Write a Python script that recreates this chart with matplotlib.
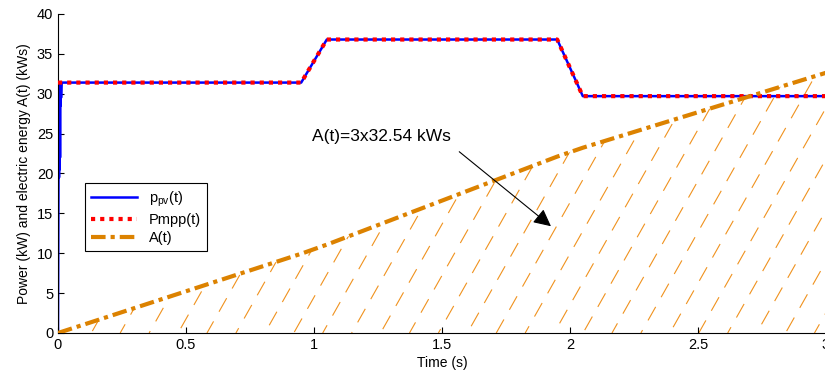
import numpy as np
import matplotlib
matplotlib.use("Agg")
import matplotlib.pyplot as plt
from matplotlib.patches import Polygon, FancyArrowPatch

plt.rcParams['font.family'] = ['Liberation Sans', 'DejaVu Sans']
plt.rcParams['mathtext.fontset'] = 'custom'
plt.rcParams['mathtext.rm'] = 'Liberation Sans'

# measured PV power (with start-up transient)
t_pv = [0, 0.002, 0.003, 0.004, 0.005, 0.006, 0.007, 0.008, 0.009, 0.010,
        0.011, 0.012, 0.014, 0.02, 0.95, 1.05, 1.95, 2.05, 3.0]
p_pv = [0, 19.0, 31.0, 19.5, 31.2, 20.5, 31.3, 22.0, 31.3, 28.5,
        31.4, 29.5, 31.4, 31.4, 31.4, 36.8, 36.8, 29.7, 29.7]
# maximum power point
t_mpp = [0, 0.95, 1.05, 1.95, 2.05, 3.0]
p_mpp = [31.4, 31.4, 36.8, 36.8, 29.7, 29.7]
# energy A(t) (scaled by 1/3)
t_A = [0, 0.95, 1.05, 1.95, 2.05, 3.0]
A = [0, 9.94, 11.08, 22.12, 23.23, 32.63]

xticks = [0, 0.5, 1, 1.5, 2, 2.5, 3]
xticklabels = ['0', '0.5', '1', '1.5', '2', '2.5', '3']
yticks = [0, 5, 10, 15, 20, 25, 30, 35, 40]

orange = '#dc8200'
hatch_col = '#f0921e'

fig = plt.figure(figsize=(8.25, 3.76), dpi=100)
ax = fig.add_axes([58/825, 43/376, 768/825, 319/376])

# hatched area under A(t)
verts = list(zip(t_A, A)) + [(t_A[-1], 0), (t_A[0], 0)]
poly = Polygon(verts, closed=True, facecolor='none', edgecolor='none')
ax.add_patch(poly)
for k, c in enumerate(np.arange(-1.0, 3.1, 0.113)):
    yy = np.array([0, 40])
    ln, = ax.plot(c + 0.0176*yy, yy, color=hatch_col, lw=0.8,
                  linestyle=((k*7) % 24, (14, 10)), zorder=1)
    ln.set_clip_path(poly)

ax.plot(t_pv, p_pv, color='#0000ff', lw=1.8, label=r'p$_{\mathregular{pv}}$(t)', zorder=2)
ax.plot(t_mpp, p_mpp, color='#ff0000', lw=3, linestyle=(0, (1, 1.2)),
        dash_capstyle='butt', label='Pmpp(t)', zorder=3)
ax.plot(t_A, A, color=orange, lw=3, linestyle=(0, (3.5, 1.2, 1, 1.2)),
        dash_capstyle='butt', label='A(t)', zorder=4)

ax.text(0.992, 24.6, 'A(t)=3x32.54 kWs', fontsize=12.5, va='center', ha='left')
arr = FancyArrowPatch((1.559, 22.95), (1.934, 13.17),
                      arrowstyle='-|>,head_length=7,head_width=3.5',
                      color='black', lw=0.8, mutation_scale=1.5, zorder=5)
ax.add_patch(arr)

ax.set_xlim(0, 3)
ax.set_ylim(0, 40)
ax.set_xticks(xticks)
ax.set_xticklabels(xticklabels)
ax.set_yticks(yticks)
ax.tick_params(direction='in', length=4, labelsize=10.5, width=0.8)
ax.spines['top'].set_visible(False)
ax.spines['right'].set_visible(False)
ax.set_xlabel('Time (s)', fontsize=10, labelpad=3)
ax.set_ylabel('Power (kW) and electric energy A(t) (kWs)', fontsize=10)

leg = ax.legend(loc='upper left', bbox_to_anchor=(0.035, 0.47), fancybox=False,
                framealpha=1, edgecolor='black', fontsize=10.5, handlelength=3.2,
                borderaxespad=0, labelspacing=0.3)
leg.get_frame().set_linewidth(0.8)

fig.savefig('out.png', dpi=100)
